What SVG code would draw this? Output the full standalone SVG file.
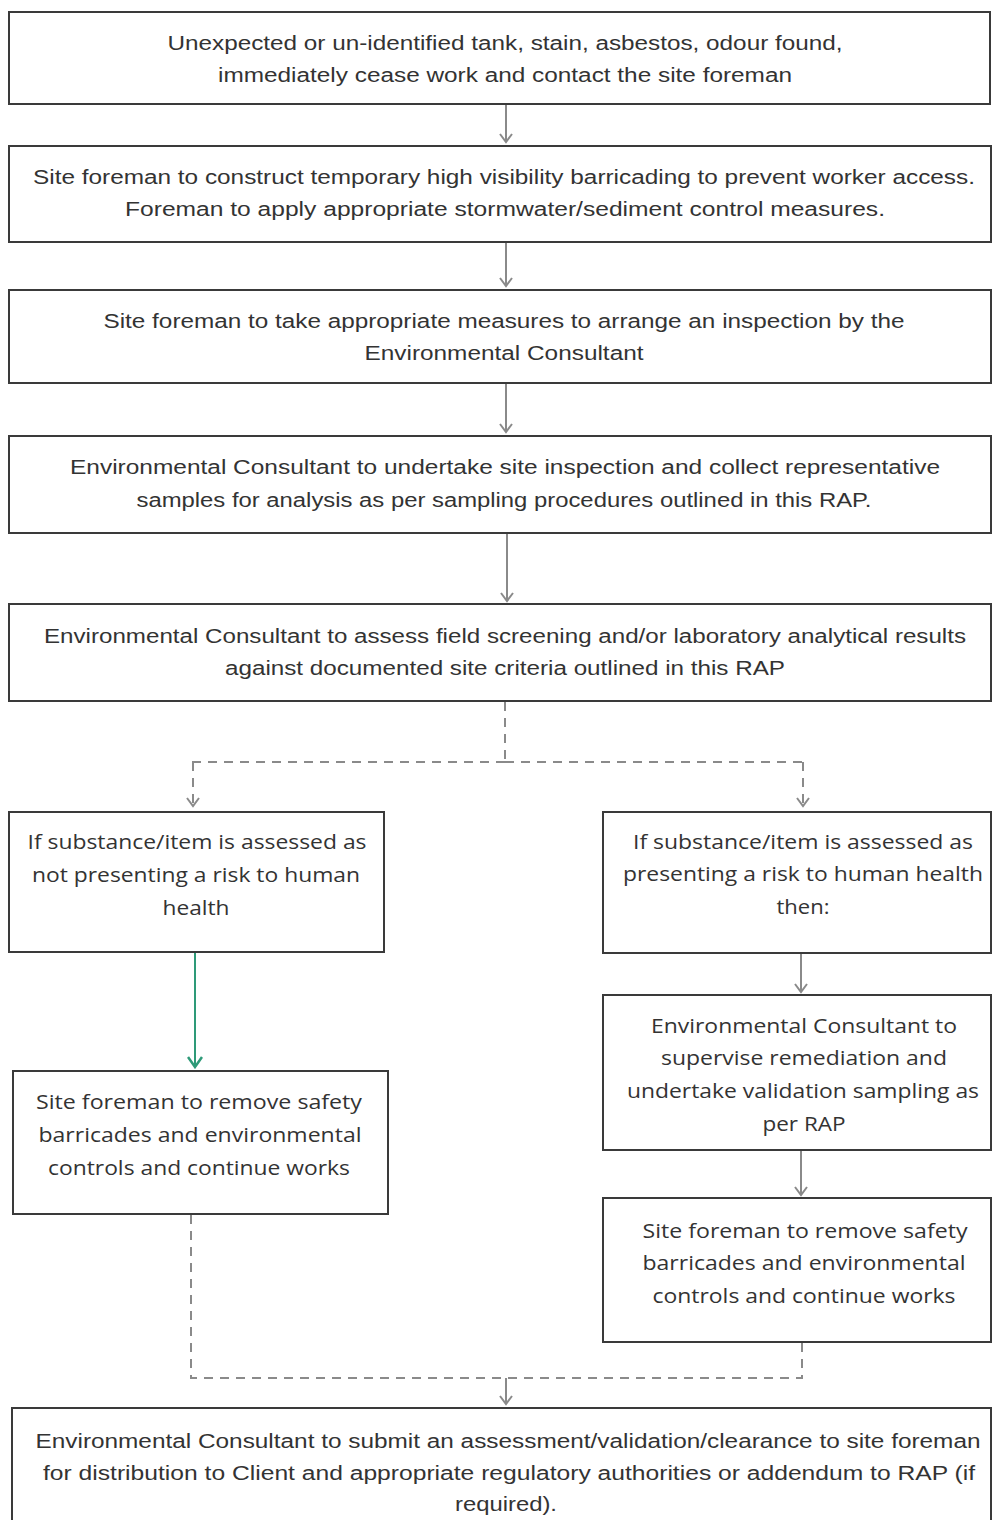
<svg xmlns="http://www.w3.org/2000/svg" width="992" height="1520" viewBox="0 0 992 1520">
<style>
.box{fill:#fff;stroke:#3a3a3a;stroke-width:2}
.t{font-family:"Liberation Sans",Arial,sans-serif;font-size:20px;fill:#333;text-anchor:middle}
.s{font-family:"Open Sans","Liberation Sans",sans-serif;font-size:20px;fill:#333;text-anchor:middle}
.c{fill:none;stroke:#8a8a8a;stroke-width:2}
.d{fill:none;stroke:#8a8a8a;stroke-width:2;stroke-dasharray:9 7}
.g{fill:none;stroke:#2e9a78;stroke-width:2}
</style>
<defs>
<marker id="ah" markerWidth="14" markerHeight="14" refX="12" refY="7" orient="auto" markerUnits="userSpaceOnUse" viewBox="0 0 14 14">
<path d="M4,1 L12,7 L4,13" fill="none" stroke="#8a8a8a" stroke-width="2"/>
</marker>
<marker id="ahg" markerWidth="16" markerHeight="16" refX="14" refY="8" orient="auto" markerUnits="userSpaceOnUse" viewBox="0 0 16 16">
<path d="M4,1 L14,8 L4,15" fill="none" stroke="#2e9a78" stroke-width="2.5"/>
</marker>
</defs>
<rect width="992" height="1520" fill="#fff"/>
<g id="connectors">
<path class="c" d="M506,105 V142" marker-end="url(#ah)"/>
<path class="c" d="M506,243 V286" marker-end="url(#ah)"/>
<path class="c" d="M506,384 V432" marker-end="url(#ah)"/>
<path class="c" d="M507,534 V601" marker-end="url(#ah)"/>
<path class="d" d="M505,702 V762 M505,762 H191 M505,762 H803"/>
<path class="d" d="M193,762 V806" marker-end="url(#ah)"/>
<path class="d" d="M803,762 V806" marker-end="url(#ah)"/>
<path class="g" d="M195,953 V1067" marker-end="url(#ahg)"/>
<path class="c" d="M801,954 V992" marker-end="url(#ah)"/>
<path class="c" d="M801,1151 V1195" marker-end="url(#ah)"/>
<path class="d" d="M191,1215 V1378 H802 V1343"/>
<path class="c" d="M506,1378 V1404" marker-end="url(#ah)"/>
</g>
<g id="n1"><rect class="box" x="9" y="12" width="981" height="92"/>
<text class="t" x="505" y="50" textLength="675" lengthAdjust="spacingAndGlyphs">Unexpected or un-identified tank, stain, asbestos, odour found,</text>
<text class="t" x="505" y="82" textLength="574" lengthAdjust="spacingAndGlyphs">immediately cease work and contact the site foreman</text></g>
<g id="n2"><rect class="box" x="9" y="146" width="982" height="96"/>
<text class="t" x="504" y="184" textLength="942" lengthAdjust="spacingAndGlyphs">Site foreman to construct temporary high visibility barricading to prevent worker access.</text>
<text class="t" x="505" y="216" textLength="760" lengthAdjust="spacingAndGlyphs">Foreman to apply appropriate stormwater/sediment control measures.</text></g>
<g id="n3"><rect class="box" x="9" y="290" width="982" height="93"/>
<text class="t" x="504" y="328" textLength="801" lengthAdjust="spacingAndGlyphs">Site foreman to take appropriate measures to arrange an inspection by the</text>
<text class="t" x="504" y="360" textLength="279" lengthAdjust="spacingAndGlyphs">Environmental Consultant</text></g>
<g id="n4"><rect class="box" x="9" y="436" width="982" height="97"/>
<text class="t" x="505" y="474" textLength="870" lengthAdjust="spacingAndGlyphs">Environmental Consultant to undertake site inspection and collect representative</text>
<text class="t" x="504" y="507" textLength="735" lengthAdjust="spacingAndGlyphs">samples for analysis as per sampling procedures outlined in this RAP.</text></g>
<g id="n5"><rect class="box" x="9" y="604" width="982" height="97"/>
<text class="t" x="505" y="643" textLength="922" lengthAdjust="spacingAndGlyphs">Environmental Consultant to assess field screening and/or laboratory analytical results</text>
<text class="t" x="505" y="675" textLength="560" lengthAdjust="spacingAndGlyphs">against documented site criteria outlined in this RAP</text></g>
<g id="nL1"><rect class="box" x="9" y="812" width="375" height="140"/>
<text class="s" x="197" y="849" textLength="339" lengthAdjust="spacingAndGlyphs">If substance/item is assessed as</text>
<text class="s" x="196" y="882" textLength="328" lengthAdjust="spacingAndGlyphs">not presenting a risk to human</text>
<text class="s" x="196" y="915" textLength="67" lengthAdjust="spacingAndGlyphs">health</text></g>
<g id="nR1"><rect class="box" x="603" y="812" width="388" height="141"/>
<text class="s" x="803" y="849" textLength="340" lengthAdjust="spacingAndGlyphs">If substance/item is assessed as</text>
<text class="s" x="803" y="881" textLength="360" lengthAdjust="spacingAndGlyphs">presenting a risk to human health</text>
<text class="s" x="803" y="914" textLength="53" lengthAdjust="spacingAndGlyphs">then:</text></g>
<g id="nR2"><rect class="box" x="603" y="995" width="388" height="155"/>
<text class="s" x="804" y="1033" textLength="306" lengthAdjust="spacingAndGlyphs">Environmental Consultant to</text>
<text class="s" x="804" y="1065" textLength="286" lengthAdjust="spacingAndGlyphs">supervise remediation and</text>
<text class="s" x="803" y="1098" textLength="352" lengthAdjust="spacingAndGlyphs">undertake validation sampling as</text>
<text class="s" x="804" y="1131" textLength="83" lengthAdjust="spacingAndGlyphs">per RAP</text></g>
<g id="nL2"><rect class="box" x="13" y="1071" width="375" height="143"/>
<text class="s" x="199" y="1109" textLength="326" lengthAdjust="spacingAndGlyphs">Site foreman to remove safety</text>
<text class="s" x="200" y="1142" textLength="323" lengthAdjust="spacingAndGlyphs">barricades and environmental</text>
<text class="s" x="199" y="1175" textLength="302" lengthAdjust="spacingAndGlyphs">controls and continue works</text></g>
<g id="nR3"><rect class="box" x="603" y="1198" width="388" height="144"/>
<text class="s" x="805" y="1238" textLength="325" lengthAdjust="spacingAndGlyphs">Site foreman to remove safety</text>
<text class="s" x="804" y="1270" textLength="323" lengthAdjust="spacingAndGlyphs">barricades and environmental</text>
<text class="s" x="804" y="1303" textLength="303" lengthAdjust="spacingAndGlyphs">controls and continue works</text></g>
<g id="n6"><rect class="box" x="12" y="1408" width="979" height="120"/>
<text class="t" x="508" y="1448" textLength="945" lengthAdjust="spacingAndGlyphs">Environmental Consultant to submit an assessment/validation/clearance to site foreman</text>
<text class="t" x="509" y="1480" textLength="932" lengthAdjust="spacingAndGlyphs">for distribution to Client and appropriate regulatory authorities or addendum to RAP (if</text>
<text class="t" x="506" y="1511" textLength="102" lengthAdjust="spacingAndGlyphs">required).</text></g>
</svg>
